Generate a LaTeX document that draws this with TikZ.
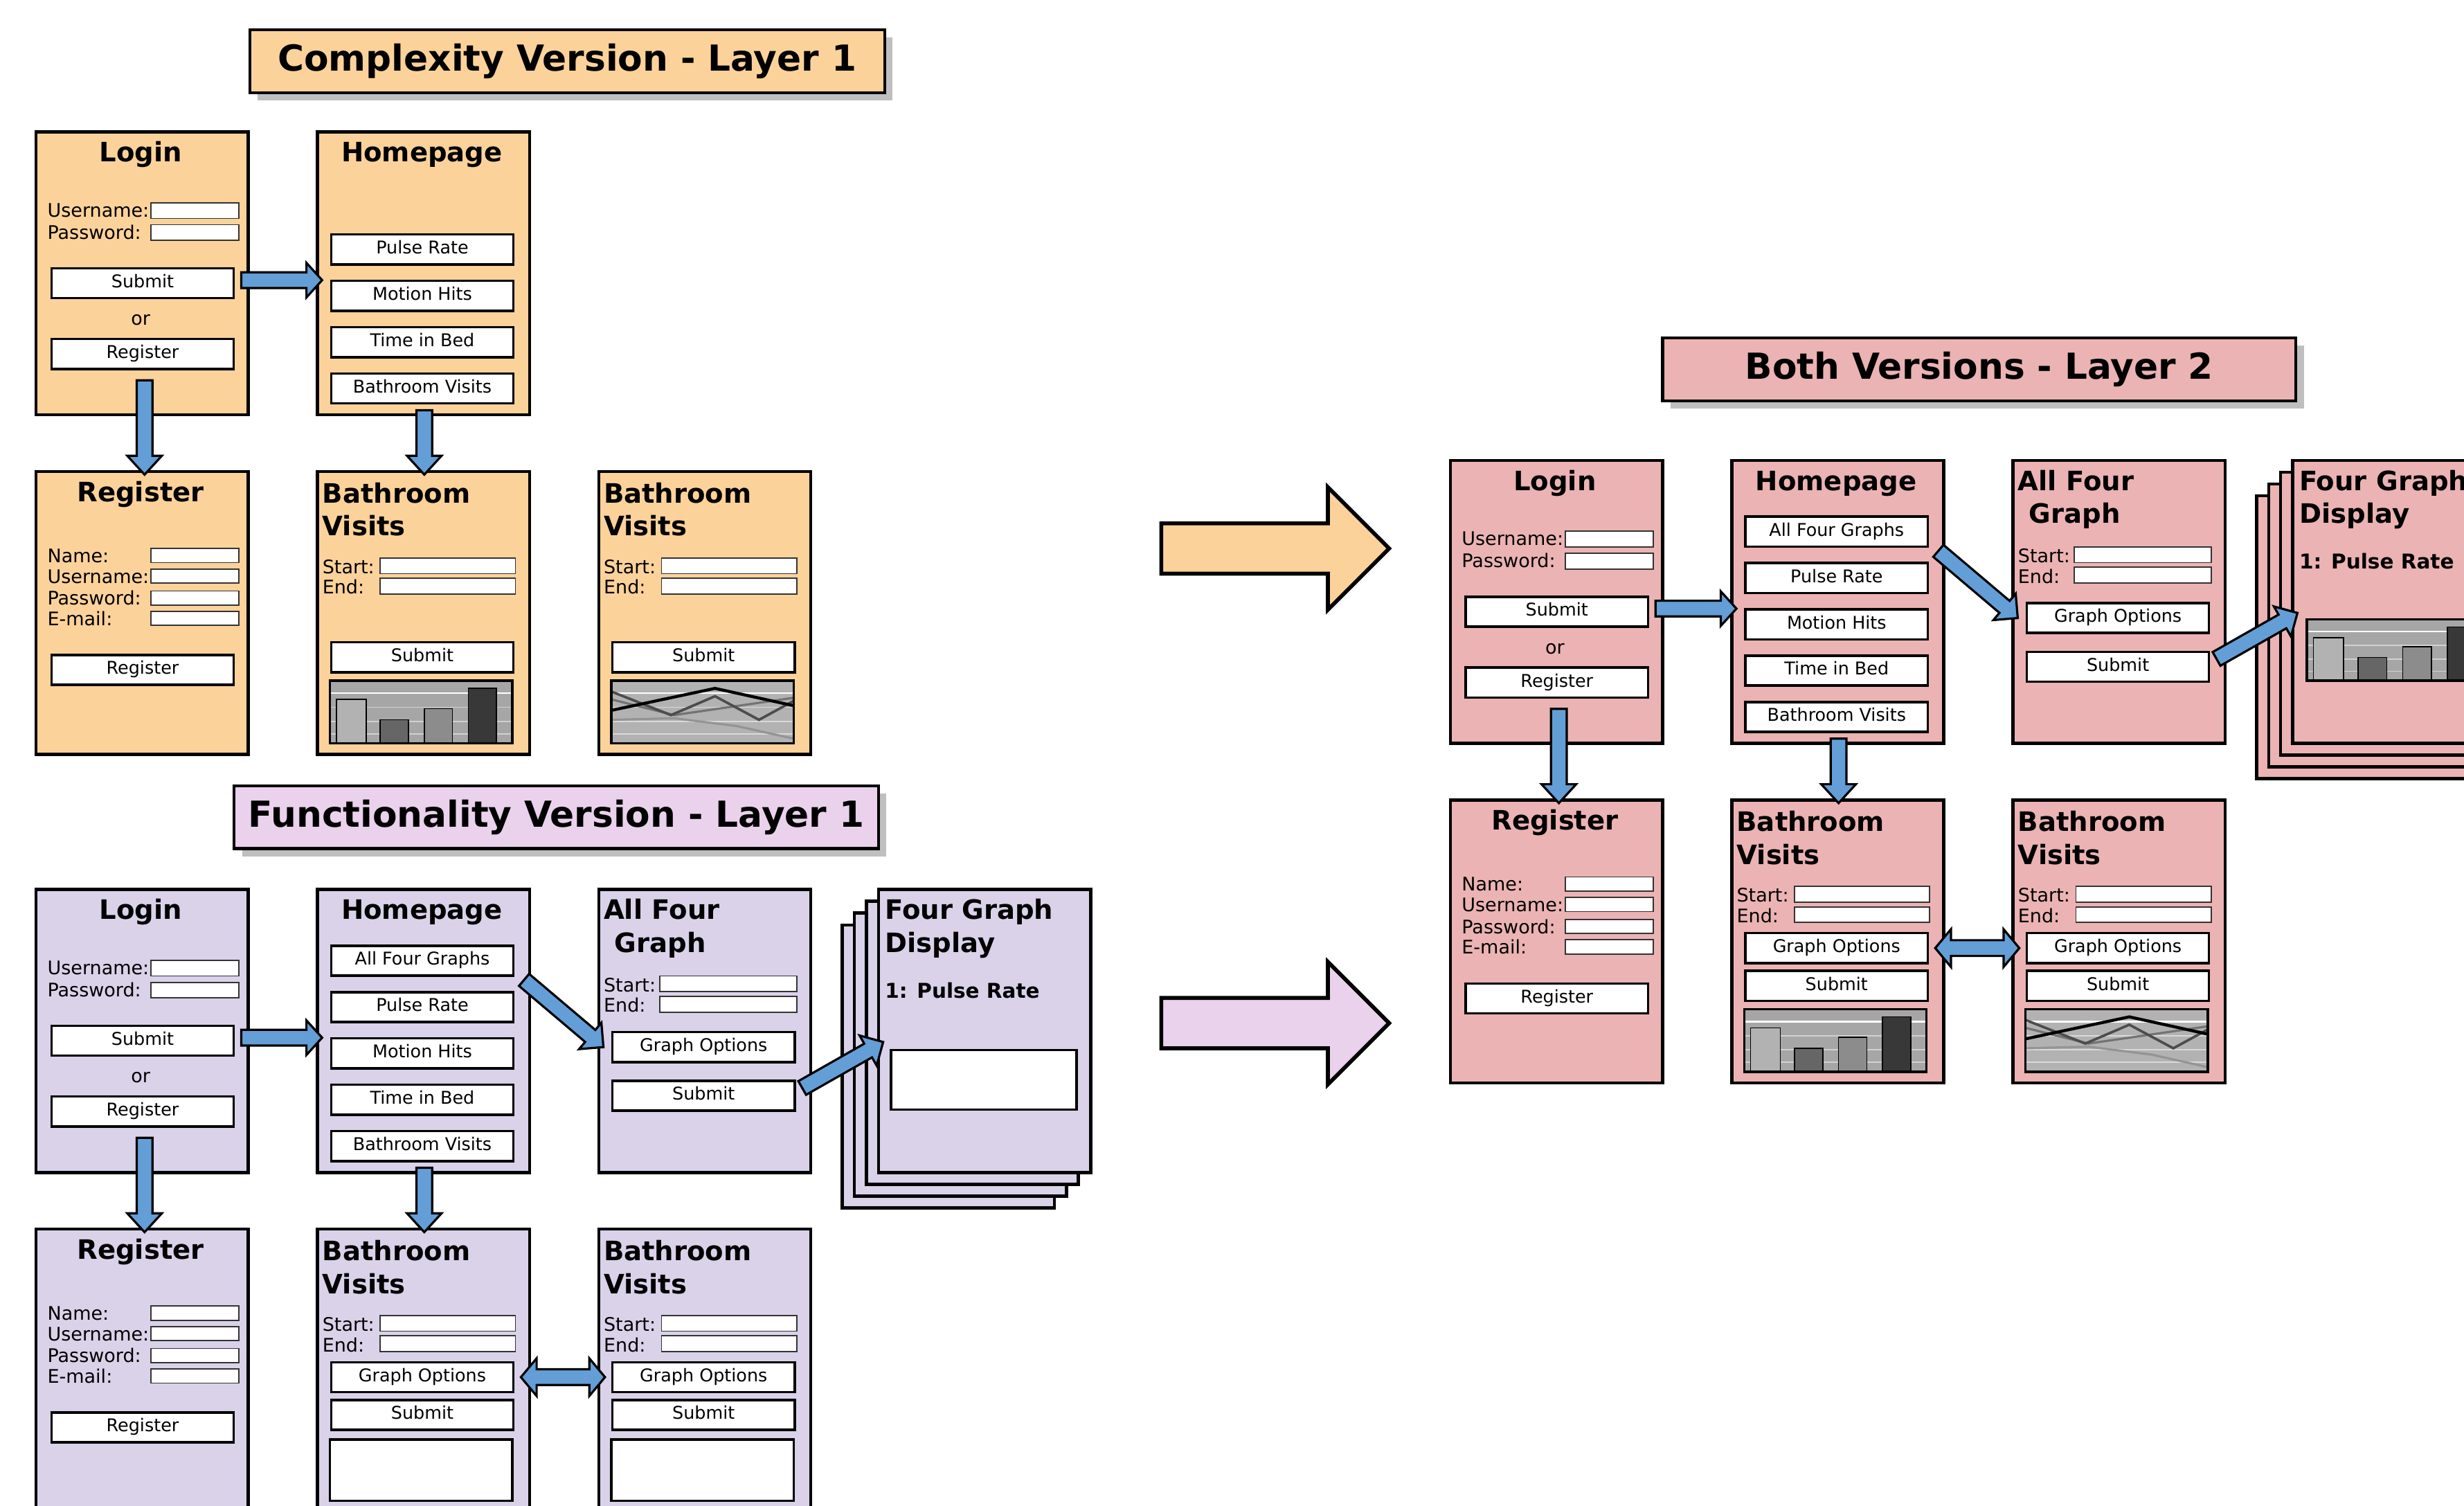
\documentclass[tikz,border=0pt]{standalone}
\usepackage{fontspec}
\setmainfont{DejaVu Sans}
\usetikzlibrary{calc,shadows}
\definecolor{corange}{RGB}{252,210,155}
\definecolor{clav}{RGB}{217,210,233}
\definecolor{cpinklav}{RGB}{234,209,236}
\definecolor{cpink}{RGB}{235,179,179}
\definecolor{arrowblue}{RGB}{100,158,214}
\tikzset{
 screen/.style={draw, line width=2pt, minimum width=135pt, minimum height=180pt, anchor=north west, inner sep=0pt},
 stitle/.style={font=\fontsize{17}{20}\selectfont\bfseries, inner sep=0pt},
 ptitle/.style={font=\fontsize{13}{15}\selectfont\bfseries, inner sep=0pt, anchor=base west},
 lbl/.style={font=\fontsize{11.9}{13}\selectfont, anchor=base west, inner sep=0pt},
 btn/.style={draw, fill=white, line width=1.5pt, minimum width=116pt, minimum height=19pt, anchor=north west, inner sep=0pt, text height=7.8pt, text depth=2.2pt, font=\fontsize{11.2}{12}\selectfont},
 field/.style={draw=black!80, fill=white, line width=0.8pt},
 barrow/.style={fill=arrowblue, draw=black, line width=1.4pt, line join=miter},
 bigtitle/.style={draw, line width=2pt, minimum height=40pt, inner sep=0pt, font=\fontsize{22.8}{26}\selectfont\bfseries, drop shadow={shadow xshift=5pt, shadow yshift=-5pt, fill=black!25, opacity=1}},
}
\newcommand\fld[4]{\draw[field] (#1,#2) rectangle (#3,#4);}
\newcommand\barchart{%
 \fill[black!35] (0,0) rectangle (116,40);
 \draw[white, line width=1.2pt] (0,8) -- (116,8);
 \draw[black!18, line width=0.8pt] (0,17) -- (116,17) (0,26) -- (116,26) (0,34) -- (116,34);
 \draw[fill=black!30, line width=0.7pt] (4,12) rectangle (23,40);
 \draw[fill=black!60, line width=0.7pt] (32,25) rectangle (50,40);
 \draw[fill=black!45, line width=0.7pt] (60,18) rectangle (78,40);
 \draw[fill=black!78, line width=0.7pt] (88,5) rectangle (106,40);
 \draw[line width=1.5pt] (0,0) rectangle (116,40);}
\newcommand\linechart{%
 \fill[black!30] (0,0) rectangle (116,40);
 \draw[white, line width=1.2pt] (0,8) -- (116,8);
 \draw[black!15, line width=0.8pt] (0,17) -- (116,17) (0,26) -- (116,26) (0,34) -- (116,34);
 \draw[black!42, line width=1.4pt] (0,25) -- (40,24) -- (80,29) -- (116,37);
 \draw[black!55, line width=1.4pt] (0,12) -- (40,22) -- (116,11);
 \draw[black!70, line width=1.6pt] (0,7) -- (38,22) -- (66,10) -- (94,25) -- (116,13);
 \draw[black, line width=1.9pt] (0,19) -- (66,5) -- (116,16);
 \draw[line width=1.5pt] (0,0) rectangle (116,40);}
\newcommand\loginscr[4]{%
\begin{scope}[shift={(#2,#3)}]
 \node[screen,fill=#4] (#1) at (0,0) {};
 \node[stitle,anchor=base] (#1-t) at (67.5,20) {Login};
 \node[lbl] (#1-ul) at (8,55) {Username:};
 \fld{74}{46}{130}{56}
 \node[lbl] (#1-pl) at (8,69) {Password:};
 \fld{74}{60}{130}{70}
 \node[btn] (#1-sub) at (10,87) {Submit};
 \node[lbl,anchor=base] (#1-or) at (67.5,124) {or};
 \node[btn] (#1-reg) at (10,132) {Register};
\end{scope}}
\newcommand\regscr[4]{%
\begin{scope}[shift={(#2,#3)}]
 \node[screen,fill=#4] (#1) at (0,0) {};
 \node[stitle,anchor=base] (#1-t) at (67.5,20) {Register};
 \node[lbl] (#1-nl) at (8,59) {Name:}; \fld{74}{50}{130}{59}
 \node[lbl] (#1-ul) at (8,72) {Username:}; \fld{74}{63}{130}{72}
 \node[lbl] (#1-pl) at (8,86) {Password:}; \fld{74}{77}{130}{86}
 \node[lbl] (#1-el) at (8,99) {E-mail:}; \fld{74}{90}{130}{99}
 \node[btn] (#1-reg) at (10,117) {Register};
\end{scope}}
\newcommand\homescr[5]{%
\begin{scope}[shift={(#2,#3)}]
 \node[screen,fill=#4] (#1) at (0,0) {};
 \node[stitle,anchor=base] (#1-t) at (67.5,20) {Homepage};
 \ifnum#5=1 \node[btn] (#1-afg) at (9,36) {All Four Graphs};\fi
 \node[btn] (#1-pr) at (9,65.5) {Pulse Rate};
 \node[btn] (#1-mh) at (9,95) {Motion Hits};
 \node[btn] (#1-tb) at (9,124.5) {Time in Bed};
 \node[btn] (#1-bv) at (9,154) {Bathroom Visits};
\end{scope}}
\newcommand\bathscr[5]{%
\begin{scope}[shift={(#2,#3)}]
 \node[screen,fill=#4] (#1) at (0,0) {};
 \node[stitle,anchor=base west] (#1-t) at (4,21) {Bathroom};
 \node[stitle,anchor=base west] (#1-t2) at (4,42) {Visits};
 \node[lbl] (#1-sl) at (4,66) {Start:}; \fld{41}{56}{127}{66}
 \node[lbl] (#1-el) at (4,79) {End:}; \fld{41}{69}{127}{79}
 \ifnum#5<2
  \node[btn] (#1-sub) at (9,109) {Submit};
  \begin{scope}[shift={(9,134)}]\ifnum#5=0 \barchart\else\linechart\fi\end{scope}
 \else
  \node[btn] (#1-go) at (9,85) {Graph Options};
  \node[btn] (#1-sub) at (9,109) {Submit};
  \ifnum#5=2 \draw[line width=1.5pt, fill=white] (9,135) rectangle (125,174);
  \else\begin{scope}[shift={(9,134)}]\ifnum#5=3 \barchart\else\linechart\fi\end{scope}\fi
 \fi
\end{scope}}
\newcommand\afgscr[4]{%
\begin{scope}[shift={(#2,#3)}]
 \node[screen,fill=#4] (#1) at (0,0) {};
 \node[stitle,anchor=base west] (#1-t) at (4,20) {All Four};
 \node[stitle,anchor=base west] (#1-t2) at (11,41) {Graph};
 \node[lbl] (#1-sl) at (4,66) {Start:}; \fld{40}{56}{127}{66}
 \node[lbl] (#1-el) at (4,79) {End:}; \fld{40}{69}{127}{79}
 \node[btn] (#1-go) at (9,91) {Graph Options};
 \node[btn] (#1-sub) at (9,122) {Submit};
\end{scope}}
\newcommand\fgdscr[5]{%
\begin{scope}[shift={(#2,#3)}]
 \node[screen,fill=#4] (#1-b3) at (-23,22.5) {};
 \node[screen,fill=#4] (#1-b2) at (-15.3,15) {};
 \node[screen,fill=#4] (#1-b1) at (-7.7,7.5) {};
 \node[screen,fill=#4] (#1) at (0,0) {};
 \node[stitle,anchor=base west] (#1-t) at (5,20) {Four Graph};
 \node[stitle,anchor=base west] (#1-t2) at (5,41) {Display};
 \node[ptitle] (#1-p) at (5,70) {1: Pulse Rate};
 \ifnum#5=0 \draw[line width=1.5pt, fill=white] (9,103) rectangle (127,141);
 \else\begin{scope}[shift={(10,102)}, xscale=1.017, yscale=0.975]\barchart\end{scope}\fi
\end{scope}}
\newcommand\blockarrow[6][]{%
 \path (#2) coordinate (ba-a) (#3) coordinate (ba-b);
 \path ($(ba-b)!#6!(ba-a)$) coordinate (ba-h);
 \draw[barrow,#1] ($(ba-a)!#4!90:(ba-b)$) -- ($(ba-h)!#4!90:(ba-b)$) -- ($(ba-h)!#5!90:(ba-b)$) -- (ba-b) -- ($(ba-h)!#5!-90:(ba-b)$) -- ($(ba-h)!#4!-90:(ba-b)$) -- ($(ba-a)!#4!-90:(ba-b)$) -- cycle;}
\newcommand\dblockarrow[6][]{%
 \path (#2) coordinate (ba-a) (#3) coordinate (ba-b);
 \path ($(ba-a)!#6!(ba-b)$) coordinate (ba-ha) ($(ba-b)!#6!(ba-a)$) coordinate (ba-hb);
 \draw[barrow,#1] (ba-a) -- ($(ba-ha)!#5!90:(ba-b)$) -- ($(ba-ha)!#4!90:(ba-b)$) -- ($(ba-hb)!#4!-90:(ba-a)$) -- ($(ba-hb)!#5!-90:(ba-a)$) -- (ba-b) -- ($(ba-hb)!#5!90:(ba-a)$) -- ($(ba-hb)!#4!90:(ba-a)$) -- ($(ba-ha)!#4!-90:(ba-b)$) -- ($(ba-ha)!#5!-90:(ba-b)$) -- cycle;}
\begin{document}
\begin{tikzpicture}[x=1pt, y=-1pt]
\useasboundingbox (0,0) rectangle (1568,958);
\clip (0,0) rectangle (1568,958);
\fill[white] (0,0) rectangle (1568,958);
% titles
\node[bigtitle, fill=corange, minimum width=404pt] (ct) at (361,39) {Complexity Version - Layer 1};
\node[bigtitle, fill=cpinklav, minimum width=410pt] (ft) at (354,520) {Functionality Version - Layer 1};
\node[bigtitle, fill=cpink, minimum width=403pt] (bt) at (1259.5,235) {Both Versions - Layer 2};
% complexity version
\loginscr{c-login}{22}{83}{corange}
\homescr{c-home}{201}{83}{corange}{0}
\regscr{c-reg}{22}{299}{corange}
\bathscr{c-bv1}{201}{299}{corange}{0}
\bathscr{c-bv2}{380}{299}{corange}{1}
% functionality version
\loginscr{f-login}{22}{565}{clav}
\homescr{f-home}{201}{565}{clav}{1}
\afgscr{f-afg}{380}{565}{clav}
\fgdscr{f-fgd}{558}{565}{clav}{0}
\regscr{f-reg}{22}{781}{clav}
\bathscr{f-bv1}{201}{781}{clav}{2}
\bathscr{f-bv2}{380}{781}{clav}{2}
% both versions
\loginscr{b-login}{922}{292}{cpink}
\homescr{b-home}{1101}{292}{cpink}{1}
\afgscr{b-afg}{1280}{292}{cpink}
\fgdscr{b-fgd}{1458}{292}{cpink}{1}
\regscr{b-reg}{922}{508}{cpink}
\bathscr{b-bv1}{1101}{508}{cpink}{3}
\bathscr{b-bv2}{1280}{508}{cpink}{4}
% blue arrows: complexity
\blockarrow{$(c-login-sub.east)+(4,-2)$}{$(c-login-sub.east -| c-home.west)+(4,-2)$}{5pt}{11pt}{10pt}
\blockarrow{$(c-login.south)+(1.5,-23)$}{$(c-reg.north)+(1.5,3)$}{5pt}{11pt}{12pt}
\blockarrow{$(c-home.south)+(0.5,-4)$}{$(c-bv1.north)+(0.5,3)$}{5pt}{11pt}{12pt}
% blue arrows: functionality
\blockarrow{$(f-login-sub.east)+(4,-2)$}{$(f-login-sub.east -| f-home.west)+(4,-2)$}{5pt}{11pt}{10pt}
\blockarrow{$(f-login.south)+(1.5,-23)$}{$(f-reg.north)+(1.5,3)$}{5pt}{11pt}{12pt}
\blockarrow{$(f-home.south)+(0.5,-4)$}{$(f-bv1.north)+(0.5,3)$}{5pt}{11pt}{12pt}
\blockarrow{$(f-home-afg.south east)+(6,2)$}{$(f-afg-go.west)+(-5,0)$}{5pt}{11pt}{11pt}
\blockarrow{$(f-afg-sub.east)+(4,-5)$}{$(f-fgd.west)+(4,7)$}{5pt}{11pt}{11pt}
\dblockarrow{$(f-bv1-go.east)+(4,0)$}{$(f-bv2-go.west)+(-4,0)$}{5pt}{12pt}{10pt}
% blue arrows: both versions
\blockarrow{$(b-login-sub.east)+(4,-2)$}{$(b-login-sub.east -| b-home.west)+(4,-2)$}{5pt}{11pt}{10pt}
\blockarrow{$(b-login.south)+(1.5,-23)$}{$(b-reg.north)+(1.5,3)$}{5pt}{11pt}{12pt}
\blockarrow{$(b-home.south)+(0.5,-4)$}{$(b-bv1.north)+(0.5,3)$}{5pt}{11pt}{12pt}
\blockarrow{$(b-home-afg.south east)+(6,2)$}{$(b-afg-go.west)+(-5,0)$}{5pt}{11pt}{11pt}
\blockarrow{$(b-afg-sub.east)+(4,-5)$}{$(b-fgd.west)+(4,7)$}{5pt}{11pt}{11pt}
\dblockarrow{$(b-bv1-go.east)+(4,0)$}{$(b-bv2-go.west)+(-4,0)$}{5pt}{12pt}{10pt}
% big arrows
\coordinate (oa-s) at (739,349);
\coordinate (oa-e) at (884,349);
\coordinate (pa-s) at (739,651);
\coordinate (pa-e) at (884,651);
\blockarrow[fill=corange, line width=2.5pt]{oa-s}{oa-e}{16pt}{39pt}{39pt}
\blockarrow[fill=cpinklav, line width=2.5pt]{pa-s}{pa-e}{16pt}{39pt}{39pt}
\end{tikzpicture}
\end{document}
